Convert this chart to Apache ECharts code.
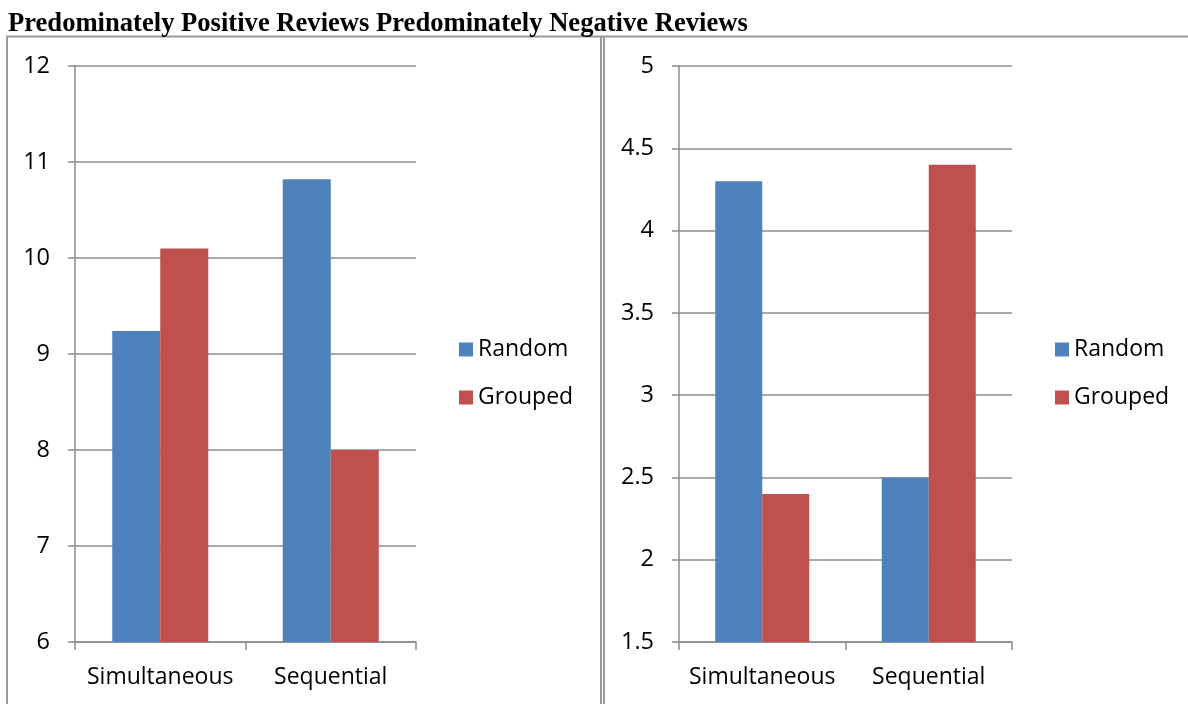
<!DOCTYPE html>
<html>
<head>
<meta charset="utf-8">
<script src="https://cdn.jsdelivr.net/npm/echarts@6/dist/echarts.min.js"></script>
<style>
  html, body { margin: 0; padding: 0; background: #fff; }
  #chart { width: 1188px; height: 704px; }
</style>
</head>
<body>
<div id="chart"></div>
<script>
// data
var categories = ['Simultaneous', 'Sequential'];
var seriesNames = ['Random', 'Grouped'];
var positiveRandom = [9.24, 10.82];
var positiveGrouped = [10.1, 8.0];
var negativeRandom = [4.3, 2.5];
var negativeGrouped = [2.4, 4.4];
var titleText = 'Predominately Positive Reviews Predominately Negative Reviews';

var blue = '#4F81BD';
var red = '#C0504D';
var gridGrey = '#8c8c8c';
var labelFont = 'Open Sans';

function makeXAxis(idx) {
    return {
        type: 'category',
        gridIndex: idx,
        data: categories,
        axisLine: {lineStyle: {color: gridGrey, width: 1.5}},
        axisTick: {show: true, length: 8, interval: 0, lineStyle: {color: gridGrey, width: 1.5}},
        axisLabel: {color: '#000', fontFamily: labelFont, fontSize: 23, margin: 24, interval: 0, hideOverlap: false}
    };
}
function makeYAxis(idx, min, max, step) {
    return {
        type: 'value',
        gridIndex: idx,
        min: min,
        max: max,
        interval: step,
        axisLine: {show: true, lineStyle: {color: gridGrey, width: 1.5}},
        axisTick: {show: true, length: 7, lineStyle: {color: gridGrey, width: 1.5}},
        splitLine: {show: true, lineStyle: {color: gridGrey, width: 1.5}},
        axisLabel: {color: '#000', fontFamily: labelFont, fontSize: 23.5, margin: 25}
    };
}
function makeLegend(x) {
    return {
        orient: 'vertical',
        left: x,
        top: 338,
        padding: 0,
        itemWidth: 14,
        itemHeight: 14,
        itemGap: 25,
        icon: 'rect',
        data: seriesNames,
        textStyle: {color: '#000', fontFamily: labelFont, fontSize: 23}
    };
}

var chart = echarts.init(document.getElementById('chart'));
var option = {
    animation: false,
    title: {
        text: titleText,
        left: 3,
        top: 6,
        textStyle: {fontFamily: 'Liberation Serif', fontWeight: 'bold', fontSize: 26.6, color: '#000'}
    },
    legend: [makeLegend(459), makeLegend(1055)],
    grid: [
        {left: 75, right: 772, top: 66, bottom: 62},
        {left: 679, right: 176, top: 66, bottom: 62}
    ],
    xAxis: [makeXAxis(0), makeXAxis(1)],
    yAxis: [makeYAxis(0, 6, 12, 1), makeYAxis(1, 1.5, 5, 0.5)],
    series: [
        {name: seriesNames[0], type: 'bar', xAxisIndex: 0, yAxisIndex: 0, data: positiveRandom,
         barWidth: 48, barGap: '0%', itemStyle: {color: blue}},
        {name: seriesNames[1], type: 'bar', xAxisIndex: 0, yAxisIndex: 0, data: positiveGrouped,
         barWidth: 48, barGap: '0%', itemStyle: {color: red}},
        {name: seriesNames[0], type: 'bar', xAxisIndex: 1, yAxisIndex: 1, data: negativeRandom,
         barWidth: 47, barGap: '0%', itemStyle: {color: blue}},
        {name: seriesNames[1], type: 'bar', xAxisIndex: 1, yAxisIndex: 1, data: negativeGrouped,
         barWidth: 47, barGap: '0%', itemStyle: {color: red}}
    ],
    graphic: [
        // panel borders
        {type: 'line', shape: {x1: 6, y1: 36.5, x2: 1188, y2: 36.5}, style: {stroke: '#9a9a9a', lineWidth: 2}},
        {type: 'line', shape: {x1: 7, y1: 36, x2: 7, y2: 704}, style: {stroke: '#9a9a9a', lineWidth: 2}},
        {type: 'line', shape: {x1: 601, y1: 36, x2: 601, y2: 704}, style: {stroke: '#9a9a9a', lineWidth: 2}},
        {type: 'line', shape: {x1: 604, y1: 36, x2: 604, y2: 704}, style: {stroke: '#9a9a9a', lineWidth: 2}}
    ]
};
chart.setOption(option);
</script>
</body>
</html>
